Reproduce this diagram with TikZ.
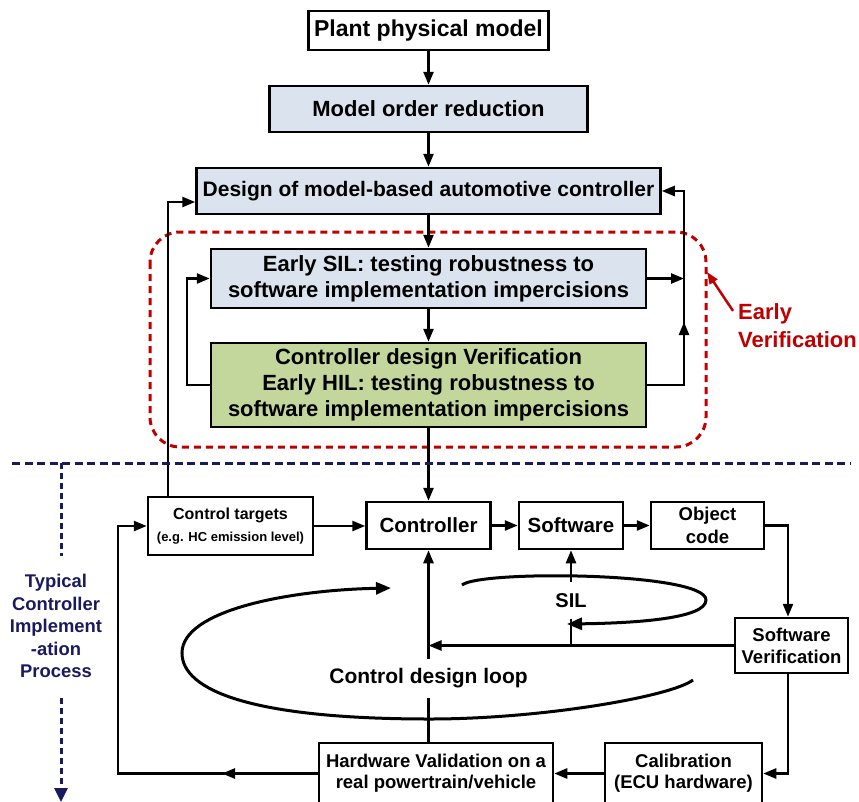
\documentclass[tikz,border=0pt]{standalone}
\usepackage{fontspec}
\setmainfont{Liberation Sans}
\usetikzlibrary{arrows.meta}
\definecolor{boxblue}{RGB}{219,228,238}
\definecolor{boxgreen}{RGB}{195,214,155}
\definecolor{evred}{RGB}{192,0,0}
\definecolor{tnavy}{RGB}{26,26,94}
\newcommand\myfs[2]{\fontsize{#1}{#2}\selectfont\bfseries}
\begin{document}
\begin{tikzpicture}[x=1pt,y=-1pt,
  box/.style={draw=black, line width=2.5pt, inner sep=0pt, align=center},
  arr/.style={line width=2.5pt, -{Triangle[length=13pt,width=10pt]}},
  ln/.style={line width=2.5pt},
  loopline/.style={line width=3pt, -{Triangle[length=15pt,width=12pt]}}]
\useasboundingbox (0,0) rectangle (859,801);
\clip (0,0) rectangle (859,801);
\fill[white] (0,0) rectangle (859,801);

% top column
\node[box, fill=white, minimum width=240pt, minimum height=39pt, font=\myfs{23}{27}] (plant) at (428.5,30.5) {Plant physical model};
\node[box, fill=boxblue, minimum width=318pt, minimum height=46pt, font=\myfs{22}{26}] (mor) at (428.5,109) {Model order reduction};
\node[box, fill=boxblue, minimum width=464pt, minimum height=46pt, font=\myfs{21}{25}] (design) at (428.5,191) {Design of model-based automotive controller};
\node[box, fill=boxblue, minimum width=435pt, minimum height=59pt, font=\myfs{22}{26}] (sil) at (428.5,278.5) {Early SIL: testing robustness to\\software implementation impercisions};
\node[box, fill=boxgreen, minimum width=435pt, minimum height=84pt, font=\myfs{22}{26}] (hil) at (428.5,385) {Controller design Verification\\Early HIL: testing robustness to\\software implementation impercisions};

% early verification frame
\draw[evred, line width=3pt, dash pattern=on 7pt off 5pt, rounded corners=30pt] (150,232) rectangle (706,447);
\node[font=\myfs{22}{28}, text=evred, align=left, anchor=base west, inner sep=0pt] (evtxt) at (738,347) {Early\\Verification};
\coordinate (evtip) at (707,272);
\draw[evred, line width=2.5pt, -{Triangle[length=12pt,width=9pt]}] ([xshift=-5pt,yshift=-8pt]evtxt.north west) -- (evtip);

% bottom boxes
\node[box, minimum width=165pt, minimum height=58pt, font=\myfs{16}{22}] (ctargets) at (230.5,526) {Control targets\\{\fontsize{13}{22}\selectfont (e.g. HC emission level)}};
\node[box, minimum width=124pt, minimum height=47pt, font=\myfs{20.5}{24}] (controller) at (428.5,525.5) {Controller};
\node[box, minimum width=104pt, minimum height=47pt, font=\myfs{20.5}{24}] (software) at (571,525.5) {Software};
\node[box, minimum width=113pt, minimum height=47pt, font=\myfs{18.5}{23}] (objcode) at (707.5,525.5) {Object\\code};
\node[box, minimum width=113pt, minimum height=55pt, font=\myfs{18.5}{22}] (swverif) at (791.5,645.5) {Software\\Verification};
\node[box, minimum width=157pt, minimum height=61pt, font=\myfs{18.5}{21}] (calib) at (683.5,773.5) {Calibration\\(ECU hardware)};
\node[box, minimum width=234pt, minimum height=61pt, font=\myfs{18.5}{21}] (hwval) at (436,773.5) {Hardware Validation on a\\real powertrain/vehicle};

% top connectors
\draw[arr] (plant.south) -- (mor.north);
\draw[arr] (mor.south) -- (design.north);
\draw[arr] (design.south) -- (sil.north);
\draw[arr] (sil.south) -- (hil.north);
\draw[arr] (hil.south) -- (controller.north);

\coordinate (ll) at (187,385);
\draw[arr] (hil.west) -- (ll) |- (sil.west);

\coordinate (rtop) at (684,191);
\coordinate (rmid) at (684,322);
\draw[arr] (sil.east) -- (sil.east -| rtop);
\draw[arr] (hil.east) -- (hil.east -| rtop) -- (rtop) -- (design.east);
\draw[arr] (hil.east -| rtop) -- (rmid);

\coordinate (lt) at (168,202);
\draw[arr] (ctargets.north -| lt) -- (lt) -- (lt -| design.west);

% bottom connectors
\draw[arr] (ctargets.east) -- (ctargets.east -| controller.west);
\draw[arr] (controller.east) -- (software.west);
\draw[arr] (software.east) -- (objcode.west);
\coordinate (rc) at (788,0);
\draw[arr] (objcode.east) -| (rc |- swverif.north);
\draw[arr] (rc |- swverif.south) |- (calib.east);
\draw[arr] (calib.west) -- (hwval.east);
\coordinate (lb) at (118,526);
\draw[arr] (hwval.west) -| (lb) -- (ctargets.west);
\coordinate (lbm) at (222,773.5);
\draw[arr] (hwval.west) -- (lbm);

% control design loop
\node[font=\myfs{21}{25}, inner xsep=2pt, inner ysep=9pt] (cdl) at (428.5,678.5) {Control design loop};
\draw[ln] (hwval.north -| cdl) -- (cdl.south);
\draw[arr] (cdl.north) -- (controller.south);
\draw[arr] (swverif.west) -- (swverif.west -| cdl);

% SIL
\node[font=\myfs{20}{24}, inner ysep=11pt] (siltxt) at (571,600.5) {SIL};
\draw[arr] (siltxt.north) -- (software.south);
\draw[ln] (siltxt.south) -- (siltxt.south |- swverif.west);

% loops
\draw[loopline] (462,585) .. controls (480,570) and (706,572) .. (706,600) .. controls (706,618) and (640,623) .. (567,624);
\draw[loopline] (693,680) .. controls (670,697) and (540,719) .. (430,719) .. controls (250,719) and (182,690) .. (182,653) .. controls (182,610) and (290,590) .. (391,588);

% navy process marker
\draw[tnavy, line width=3pt, dash pattern=on 8pt off 4.5pt] (12,463) -- (850,463);
\node[font=\myfs{18.4}{22.5}, text=tnavy, align=center, inner sep=0pt] (tcip) at (56,626) {Typical\\Controller\\Implement\\-ation\\Process};
\coordinate (nv1) at (61,463);
\coordinate (nv2) at (61,556);
\coordinate (nv3) at (61,698);
\coordinate (nv4) at (61,802);
\draw[tnavy, line width=3pt, dash pattern=on 6pt off 4pt] (nv1) -- (nv2);
\draw[tnavy, line width=3pt, dash pattern=on 6pt off 4pt, -{Triangle[length=14pt,width=13pt]}] (nv3) -- (nv4);
\end{tikzpicture}
\end{document}
